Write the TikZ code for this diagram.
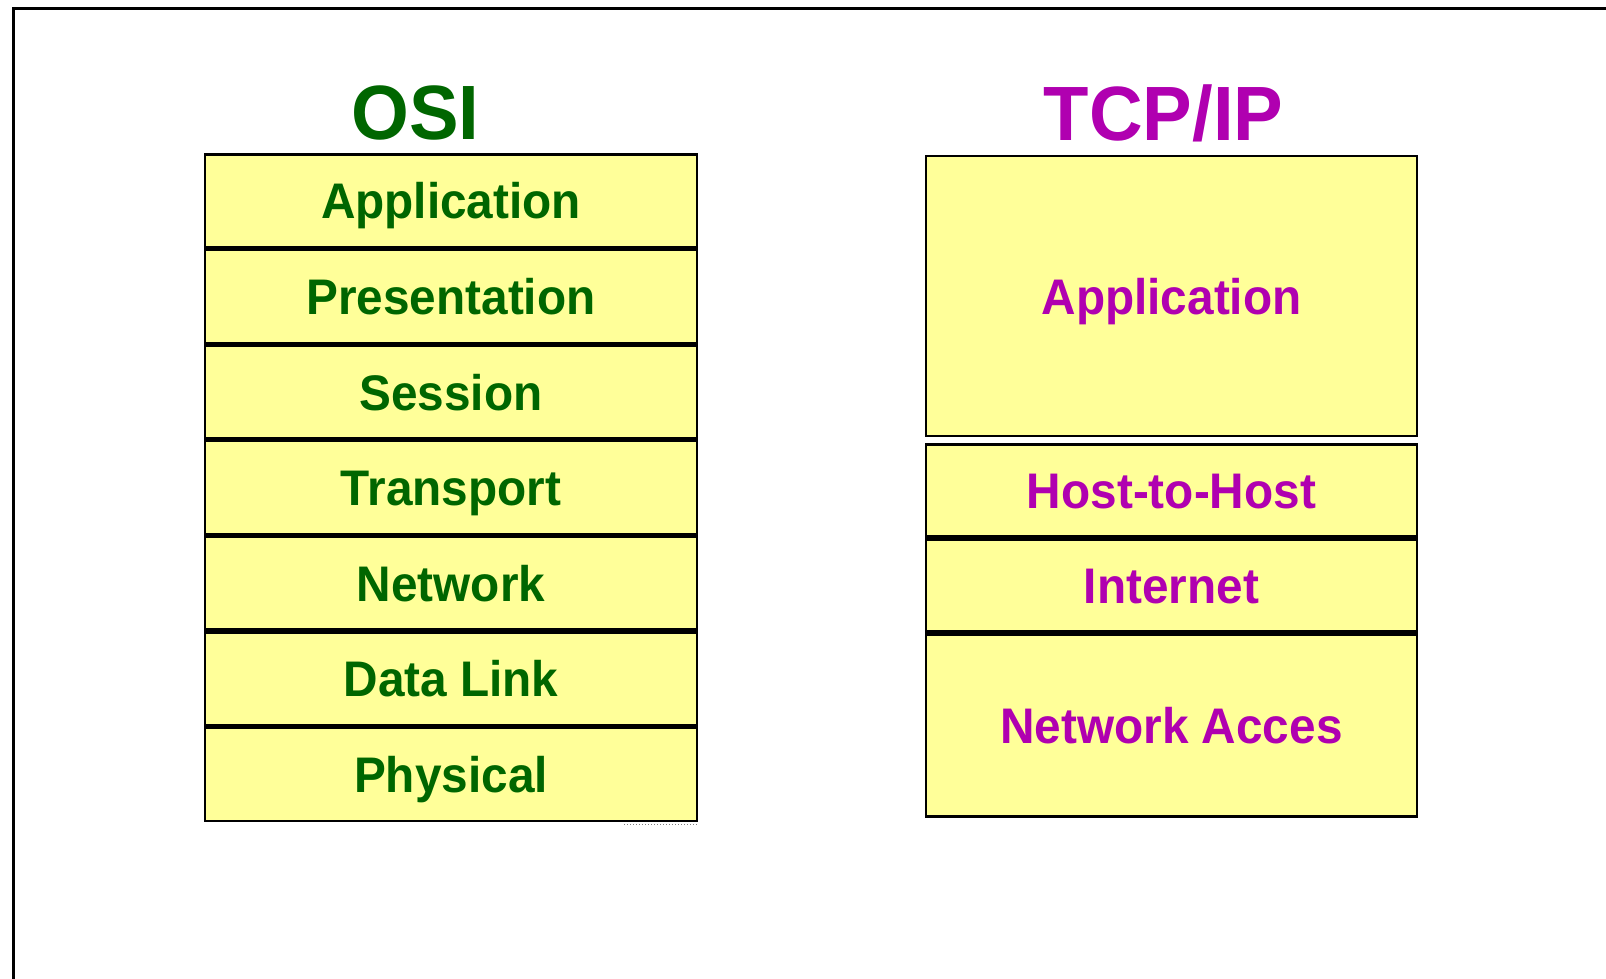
\documentclass[tikz,border=0pt]{standalone}
\usepackage{fontspec}
\newfontfamily\layfont{Liberation Sans}[FakeStretch=0.955]
\newfontfamily\ttlfont{Liberation Sans}[FakeStretch=0.965]
\definecolor{layyellow}{HTML}{FFFF99}
\definecolor{osigreen}{HTML}{006600}
\definecolor{tcpmag}{HTML}{B000B0}
\tikzset{
  layer/.style={draw=black, line width=2.6pt, fill=layyellow, rectangle,
    inner sep=0pt, text height=36pt, text depth=0pt,
    font=\layfont\bfseries\fontsize{50}{60}\selectfont},
  osilayer/.style={layer, minimum width=492pt, text=osigreen},
  tcplayer/.style={layer, minimum width=491pt, text=tcpmag},
  title/.style={anchor=base, inner sep=0pt, font=\ttlfont\bfseries\fontsize{77}{92}\selectfont},
  frameline/.style={draw=black, line width=2.5pt}
}
\begin{document}
\begin{tikzpicture}[x=1pt, y=-1pt]
\useasboundingbox (0,0) rectangle (1606,978);
% outer frame
\coordinate (fbl) at (13.5,1100);
\coordinate (ftl) at (13.5,8.5);
\coordinate (ftr) at (1700,8.5);
\draw[frameline] (fbl) -- (ftl) -- (ftr);
% titles
\node[title, text=osigreen] (osititle) at (415.5,139) {OSI};
\node[title, text=tcpmag] (tcptitle) at (1163.5,140) {TCP/IP};
% OSI layers
\node[osilayer, minimum height=93pt] (oapp) at (451,200.8) {Application};
\node[osilayer, minimum height=93pt] (opre) at (451,296.4) {Presentation};
\node[osilayer, minimum height=93pt] (oses) at (451,392) {Session};
\node[osilayer, minimum height=93pt] (otra) at (451,487.6) {Transport};
\node[osilayer, minimum height=93pt] (onet) at (451,583.2) {Network};
\node[osilayer, minimum height=93pt] (odat) at (451,678.8) {Data Link};
\node[osilayer, minimum height=93pt] (ophy) at (451,774.4) {Physical};
\coordinate (dotA) at (624,824.5);
\coordinate (dotB) at (697,824.5);
\draw[gray, dotted, line width=1pt] (dotA) -- (dotB);
% TCP/IP layers
\node[tcplayer, minimum height=280pt] (tapp) at (1171.5,296) {Application};
\node[tcplayer, minimum height=92pt] (thost) at (1171.5,490.5) {Host-to-Host};
\node[tcplayer, minimum height=92pt] (tint) at (1171.5,585.5) {Internet};
\node[tcplayer, minimum height=182pt] (tnet) at (1171.5,725.5) {Network Acces};
\end{tikzpicture}
\end{document}
